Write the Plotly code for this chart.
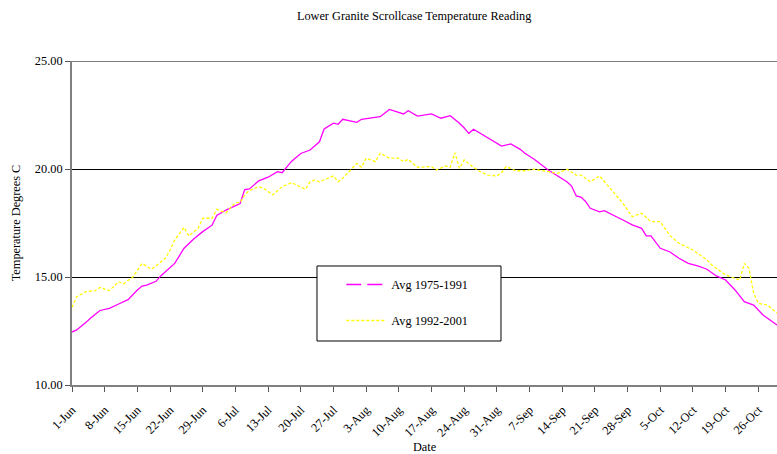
import pandas as pd
import plotly.graph_objects as go

# Day offsets from 1-Jun and values
m_days = [0, 1, 3, 4, 6, 8, 10, 12, 14, 15, 16, 18, 19, 22, 24, 26, 28, 30, 31, 33,
          36, 37, 38, 40, 42, 44, 45, 47, 49, 51, 53, 54, 56, 57, 58, 61, 62, 66, 68, 69,
          71, 72, 74, 77, 79, 81, 83, 84, 85, 86, 88, 90, 92, 94, 96, 97, 99, 102, 104, 106,
          107, 108, 109, 110, 111, 113, 114, 116, 118, 120, 122, 123, 124, 126, 128, 130, 132, 134, 136, 138,
          140, 142, 144, 146, 148, 151]
m_vals = [12.45, 12.55, 12.9, 13.1, 13.45, 13.55, 13.75, 13.95, 14.4, 14.58, 14.62, 14.8, 15.05, 15.63, 16.33, 16.75, 17.1, 17.4, 17.85, 18.1,
          18.4, 19.05, 19.08, 19.45, 19.62, 19.88, 19.83, 20.35, 20.72, 20.88, 21.26, 21.85, 22.12, 22.07, 22.3, 22.16, 22.3, 22.42, 22.76, 22.7,
          22.55, 22.7, 22.45, 22.55, 22.35, 22.47, 22.12, 21.9, 21.65, 21.84, 21.57, 21.31, 21.06, 21.16, 20.91, 20.73, 20.45, 19.95, 19.68, 19.41,
          19.21, 18.75, 18.7, 18.5, 18.18, 18.02, 18.07, 17.87, 17.64, 17.41, 17.25, 16.9, 16.9, 16.33, 16.17, 15.87, 15.63, 15.51, 15.36, 15.05,
          14.86, 14.4, 13.86, 13.7, 13.24, 12.78]

y_days = [0, 1, 3, 5, 6, 8, 10, 11, 13, 15, 17, 18, 20, 21, 22, 24, 25, 27, 28, 30,
          31, 33, 35, 36, 37, 38, 40, 41, 43, 45, 47, 48, 50, 51, 52, 53, 55, 56, 57, 58,
          60, 61, 62, 63, 65, 66, 68, 70, 71, 72, 74, 77, 78, 80, 81, 82, 83, 84, 86, 87,
          89, 91, 92, 93, 95, 97, 99, 102, 104, 106, 108, 109, 111, 113, 115, 118, 120, 122, 124, 126,
          128, 130, 133, 136, 137, 140, 143, 144, 145, 146, 147, 149, 151]
y_vals = [13.6, 14.09, 14.32, 14.37, 14.52, 14.37, 14.78, 14.68, 14.99, 15.63, 15.36, 15.51, 15.87, 16.25, 16.71, 17.3, 16.9, 17.25, 17.72, 17.72,
          18.13, 17.98, 18.44, 18.44, 18.8, 19.0, 19.18, 19.11, 18.8, 19.18, 19.37, 19.26, 19.06, 19.41, 19.49, 19.41, 19.57, 19.68, 19.41, 19.57,
          20.03, 20.26, 20.08, 20.5, 20.34, 20.73, 20.5, 20.5, 20.34, 20.45, 20.08, 20.11, 19.95, 20.14, 20.08, 20.76, 20.03, 20.42, 20.08, 19.92,
          19.72, 19.68, 19.83, 20.11, 19.92, 19.92, 19.99, 19.88, 19.8, 19.99, 19.72, 19.72, 19.41, 19.68, 19.18, 18.41, 17.79, 17.95, 17.56, 17.56,
          16.94, 16.56, 16.25, 15.79, 15.56, 15.09, 14.86, 15.63, 15.4, 14.25, 13.78, 13.7, 13.32]

names = ["Avg 1975-1991", "Avg 1992-2001"]
title = "Lower Granite Scrollcase Temperature Reading"
base = pd.Timestamp("2001-06-01")
y_ticks = [10, 15, 20, 25]

m_x = [base + pd.Timedelta(days=d) for d in m_days]
y_x = [base + pd.Timedelta(days=d) for d in y_days]

FONT = "Liberation Serif"
FS = 12.3
fig = go.Figure()
fig.add_trace(go.Scatter(x=m_x, y=m_vals, mode="lines", showlegend=False,
                         line=dict(color="#FF00FF", width=1.3)))
fig.add_trace(go.Scatter(x=y_x, y=y_vals, mode="lines", showlegend=False,
                         line=dict(color="#FFFF00", width=1.3, dash="3px,2px")))
# legend entries
fig.add_trace(go.Scatter(x=[None], y=[None], mode="lines", name=names[0], legendgroup="a",
                         line=dict(color="#FF00FF", width=1.5, dash="15px,6px")))
fig.add_trace(go.Scatter(x=[None], y=[None], mode="lines", name=names[1], legendgroup="b",
                         line=dict(color="#FFFF00", width=1.3, dash="3px,2px")))

fig.add_shape(type="line", xref="paper", yref="y", x0=0, x1=1, y0=25, y1=25,
              line=dict(color="black", width=1))
fig.add_shape(type="rect", xref="paper", yref="paper", x0=0.3475, x1=0.6085, y0=0.1358, y1=0.3673,
              line=dict(color="black", width=1), fillcolor="white", layer="above")

fig.update_layout(
    width=777, height=454,
    margin=dict(l=72, r=0, t=61, b=69),
    paper_bgcolor="white", plot_bgcolor="white",
    font=dict(family=FONT, size=FS, color="black"),
    title=dict(text=title, x=0.533, xanchor="center", y=0.965, yanchor="middle",
               font=dict(family=FONT, size=FS)),
    legend=dict(x=0.382, y=0.355, xanchor="left", yanchor="top", bgcolor="rgba(0,0,0,0)",
                borderwidth=0, font=dict(family=FONT, size=FS), tracegroupgap=17,
                traceorder="grouped", itemwidth=40),
    xaxis=dict(range=[base, base + pd.Timedelta(days=151)], tick0=base, dtick=7 * 86400000,
               tickformat="%-d-%b", tickangle=-45, showgrid=False, showline=True,
               linecolor="#808080", linewidth=2, ticks="outside", ticklen=5, tickcolor="#555555",
               tickfont=dict(family=FONT, size=FS), automargin=False, ticklabelstandoff=6,
               title=dict(text="Date", font=dict(family=FONT, size=FS), standoff=6)),
    yaxis=dict(range=[10, 25], tickvals=y_ticks, tickformat=".2f", showgrid=True,
               gridcolor="black", gridwidth=1, showline=True, linecolor="#808080", linewidth=2,
               ticks="outside", ticklen=5, tickcolor="#555555", zeroline=False,
               tickfont=dict(family=FONT, size=FS), automargin=False,
               title=dict(text="Temperature Degrees C", font=dict(family=FONT, size=FS), standoff=12)),
)
fig.write_html("out.html", config={"displayModeBar": False},
               post_script="document.body.style.margin='0px';")
